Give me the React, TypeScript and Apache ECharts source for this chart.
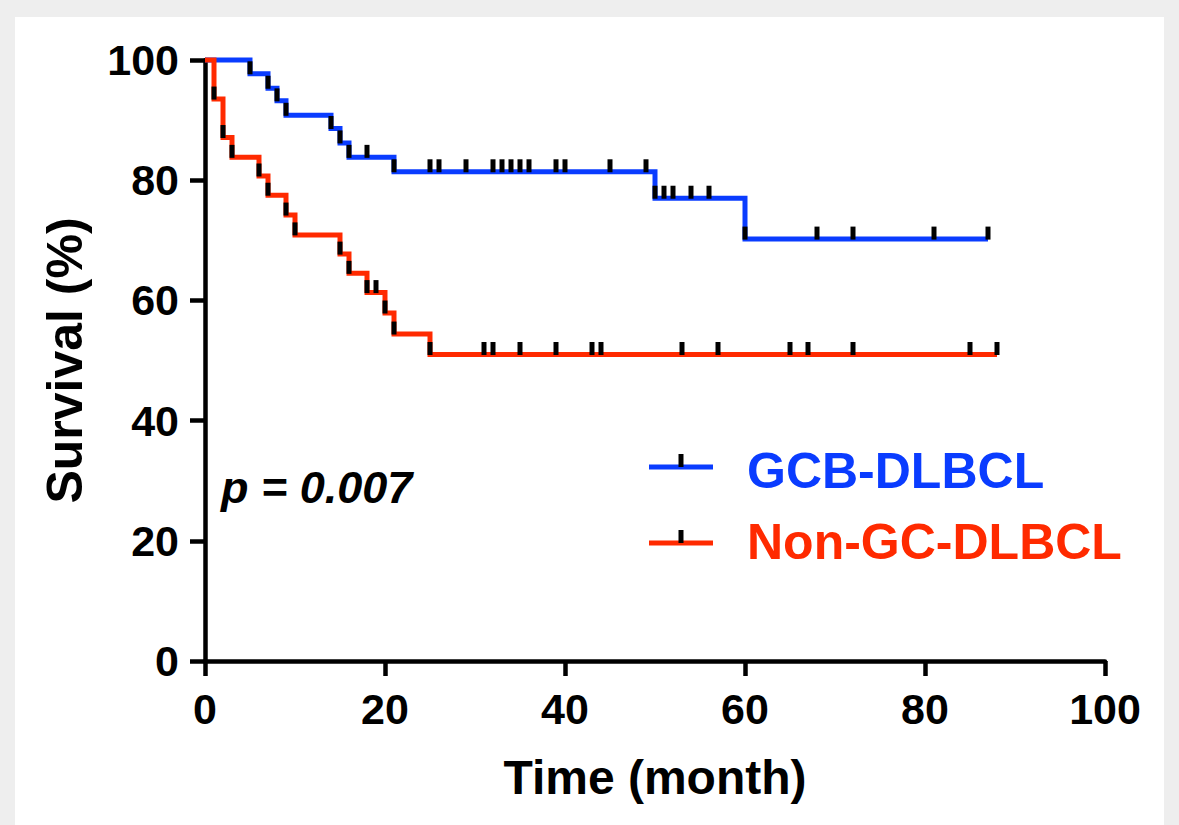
import React, { useEffect, useRef } from "react";
import * as echarts from "echarts";

// ---- data ----
const xTickValues = [0, 20, 40, 60, 80, 100];
const yTickValues = [0, 20, 40, 60, 80, 100];

// GCB-DLBCL: step times (months) and survival (%) after each step
const gcbTimes = [0, 5, 7, 8, 9, 14, 15, 16, 21, 50, 60, 87];
const gcbSurvival = [100, 97.7, 95.3, 93.2, 90.8, 88.6, 86.2, 83.8, 81.4, 77.0, 70.2, 70.2];
const gcbCensorTimes = [5, 7, 8, 9, 14, 15, 16, 18, 21, 25, 26, 29, 32, 33, 34, 35, 36, 39, 40, 45, 49, 50, 51, 52, 54, 56, 60, 68, 72, 81, 87];

// Non-GC-DLBCL
const nonGcTimes = [0, 1, 2, 3, 6, 7, 9, 10, 15, 16, 18, 20, 21, 25, 88];
const nonGcSurvival = [100, 93.5, 87.1, 83.8, 80.7, 77.5, 74.2, 70.9, 67.7, 64.5, 61.3, 57.9, 54.4, 51.0, 51.0];
const nonGcCensorTimes = [1, 2, 3, 6, 7, 9, 10, 15, 16, 18, 19, 20, 21, 25, 31, 32, 35, 39, 43, 44, 53, 57, 65, 67, 72, 85, 88];

const seriesNames = ["GCB-DLBCL", "Non-GC-DLBCL"];
const pValueText = "p = 0.007";

const BLUE = "#0a3cff";
const RED = "#ff2a00";
const FONT = "'Liberation Sans', Arial, Helvetica, sans-serif";

function survivalAt(times: number[], surv: number[], t: number): number {
  let s = surv[0];
  for (let i = 0; i < times.length; i++) {
    if (times[i] <= t) s = surv[i];
  }
  return s;
}

function stepData(times: number[], surv: number[]) {
  return times.map((t, i) => [t, surv[i]]);
}

function censorData(times: number[], surv: number[], censor: number[]) {
  return censor.map((t) => [t, survivalAt(times, surv, t)]);
}

export default function App() {
  const ref = useRef<HTMLDivElement>(null);

  useEffect(() => {
    if (!ref.current) return;
    const chart = echarts.init(ref.current, undefined, { renderer: "svg" });

    const axisLabelStyle = {
      fontFamily: FONT,
      fontWeight: "bold" as const,
      fontSize: 43,
      color: "#000",
    };

    const censorSeries = (name: string, data: number[][]) => ({
      name,
      type: "scatter",
      symbol: "rect",
      symbolSize: [5, 13],
      symbolOffset: [0, -6],
      clip: false,
      z: 5,
      itemStyle: { color: "#000", opacity: 1 },
      emphasis: { disabled: true },
      data,
    });

    const option: any = {
      animation: false,
      backgroundColor: "#ffffff",
      grid: { left: 205, right: 74, top: 60, bottom: 164, containLabel: false },
      xAxis: {
        type: "value",
        min: 0,
        max: 100,
        interval: 20,
        name: "Time (month)",
        nameLocation: "middle",
        nameGap: 92,
        nameTextStyle: { fontFamily: FONT, fontWeight: "bold", fontSize: 48, color: "#000" },
        axisLine: { show: true, lineStyle: { color: "#000", width: 4.5 } },
        axisTick: { show: true, length: 15, lineStyle: { color: "#000", width: 4.5 } },
        splitLine: { show: false },
        axisLabel: {
          ...axisLabelStyle,
          margin: 26,
          formatter: (v: number) => (xTickValues.includes(v) ? String(v) : ""),
        },
      },
      yAxis: {
        type: "value",
        min: 0,
        max: 100,
        interval: 20,
        name: "Survival (%)",
        nameLocation: "middle",
        nameRotate: 90,
        nameGap: 115,
        nameTextStyle: { fontFamily: FONT, fontWeight: "bold", fontSize: 50, color: "#000" },
        axisLine: { show: true, lineStyle: { color: "#000", width: 4.5 } },
        axisTick: { show: true, length: 15, lineStyle: { color: "#000", width: 4.5 } },
        splitLine: { show: false },
        axisLabel: {
          ...axisLabelStyle,
          margin: 26,
          formatter: (v: number) => (yTickValues.includes(v) ? String(v) : ""),
        },
      },
      series: [
        {
          name: seriesNames[0],
          type: "line",
          step: "end",
          symbol: "none",
          clip: false,
          z: 3,
          lineStyle: { color: BLUE, width: 5, join: "miter", cap: "butt" },
          data: stepData(gcbTimes, gcbSurvival),
        },
        {
          name: seriesNames[1],
          type: "line",
          step: "end",
          symbol: "none",
          clip: false,
          z: 3,
          lineStyle: { color: RED, width: 5, join: "miter", cap: "butt" },
          data: stepData(nonGcTimes, nonGcSurvival),
        },
        censorSeries(seriesNames[0] + " censored", censorData(gcbTimes, gcbSurvival, gcbCensorTimes)),
        censorSeries(seriesNames[1] + " censored", censorData(nonGcTimes, nonGcSurvival, nonGcCensorTimes)),
      ],
      graphic: [
        // grey frame
        { type: "rect", shape: { x: 0, y: 0, width: 1179, height: 17 }, style: { fill: "#eeeeee" }, silent: true },
        { type: "rect", shape: { x: 0, y: 0, width: 15, height: 825 }, style: { fill: "#eeeeee" }, silent: true },
        { type: "rect", shape: { x: 1164, y: 0, width: 15, height: 825 }, style: { fill: "#eeeeee" }, silent: true },
        // p value
        {
          type: "text",
          x: 221,
          y: 487,
          style: {
            text: pValueText,
            fontFamily: FONT,
            fontWeight: "bold",
            fontStyle: "italic",
            fontSize: 45,
            fill: "#000",
            verticalAlign: "middle",
          },
        },
        // legend: GCB
        { type: "line", shape: { x1: 649, y1: 467, x2: 713, y2: 467 }, style: { stroke: BLUE, lineWidth: 5 } },
        { type: "rect", shape: { x: 678.5, y: 454, width: 5, height: 13 }, style: { fill: "#000" } },
        {
          type: "text",
          x: 747,
          y: 471,
          style: { text: seriesNames[0], fontFamily: FONT, fontWeight: "bold", fontSize: 50, fill: BLUE, verticalAlign: "middle" },
        },
        // legend: Non-GC
        { type: "line", shape: { x1: 649, y1: 543, x2: 713, y2: 543 }, style: { stroke: RED, lineWidth: 5 } },
        { type: "rect", shape: { x: 678.5, y: 530, width: 5, height: 13 }, style: { fill: "#000" } },
        {
          type: "text",
          x: 747,
          y: 542,
          style: { text: seriesNames[1], fontFamily: FONT, fontWeight: "bold", fontSize: 50, fill: RED, verticalAlign: "middle" },
        },
      ],
    };

    chart.setOption(option);
    return () => chart.dispose();
  }, []);

  return (
    <div
      ref={ref}
      style={{ position: "absolute", left: 0, top: 0, width: 1179, height: 825 }}
    />
  );
}
